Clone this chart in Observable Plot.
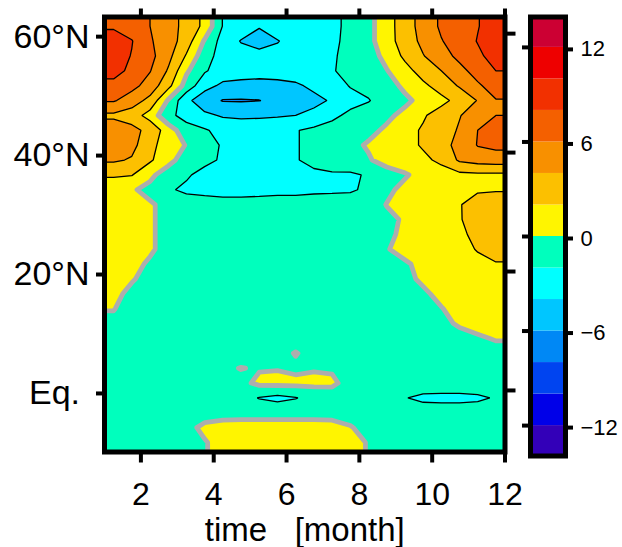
<!DOCTYPE html>
<html>
<head>
<meta charset="utf-8">
<script src="https://cdn.jsdelivr.net/npm/d3@7"></script>
<script src="https://cdn.jsdelivr.net/npm/@observablehq/plot@0.6"></script>
<style>
  html, body { margin: 0; padding: 0; background: #fff; }
  #chart { position: relative; width: 622px; height: 547px; overflow: hidden; }
  #chart svg { position: absolute; left: 0; top: 0; }
</style>
</head>
<body>
<div id="chart"></div>
<script>
// ---- grid coordinates (cell centres) ----
const months = [1.25, 1.75, 2.25, 2.75, 3.25, 3.75, 4.25, 4.75, 5.25, 5.75, 6.25,
                6.75, 7.25, 7.75, 8.25, 8.75, 9.25, 9.75, 10.25, 10.75, 11.25, 11.75];
const lats = [61.25, 58.75, 56.25, 53.75, 51.25, 48.75, 46.25, 43.75, 41.25, 38.75,
              36.25, 33.75, 31.25, 28.75, 26.25, 23.75, 21.25, 18.75, 16.25, 13.75,
              11.25, 8.75, 6.25, 3.75, 1.25, -1.25, -3.75, -6.25, -8.75];

// ---- field values, one row per latitude ----
const rows = [
  [7.8, 7.0, 6.0, 4.8, 3.4, 1.5, -2.1, -3.0, -3.9, -3.0, -2.8, -2.6, -2.4, -1.6, -0.6, 1.2, 3.0, 4.8, 6.3, 7.2, 7.9, 9.0],
  [8.7, 8.1, 6.2, 5.0, 3.0, -0.2, -2.8, -4.1, -4.6, -4.1, -3.2, -2.9, -2.3, -1.6, -0.6, 1.2, 2.9, 4.5, 5.9, 6.9, 8.1, 9.3],
  [9.0, 7.9, 6.6, 4.6, 1.8, -1.2, -2.8, -3.3, -3.5, -3.4, -3.1, -2.9, -2.2, -1.5, -0.9, 0.6, 2.4, 3.9, 5.2, 6.5, 7.6, 8.8],
  [8.6, 7.6, 6.1, 3.8, 0.3, -1.8, -2.9, -3.1, -3.2, -3.1, -3.0, -2.9, -2.1, -1.6, -1.0, -0.1, 1.3, 2.8, 4.0, 5.4, 6.8, 8.0],
  [7.5, 6.6, 5.2, 2.6, -0.8, -3.3, -4.4, -4.6, -4.7, -4.6, -4.3, -3.6, -2.8, -1.9, -1.5, -0.8, 0.4, 1.6, 2.8, 4.2, 5.7, 6.9],
  [6.2, 5.0, 3.4, -0.2, -3.5, -5.2, -6.1, -6.15, -6.05, -5.5, -5.0, -4.5, -3.8, -2.6, -2.1, -1.2, -0.4, 0.6, 1.5, 2.6, 4.1, 5.9],
  [3.6, 3.0, 1.2, -1.5, -2.7, -3.6, -4.2, -4.3, -4.2, -4.1, -4.0, -3.5, -2.4, -1.6, -1.2, -0.4, 0.5, 1.8, 2.8, 3.9, 5.0, 6.0],
  [5.2, 4.6, 3.4, 1.0, -1.2, -1.8, -2.6, -3.0, -3.2, -3.2, -2.1, -1.6, -1.3, -0.9, -0.5, 0.3, 1.4, 2.2, 3.1, 4.2, 6.0, 6.8],
  [5.2, 4.6, 2.6, 1.0, -0.1, -1.2, -2.2, -2.7, -3.0, -2.8, -2.1, -1.6, -1.1, -0.5, 0.2, 0.9, 1.4, 2.2, 3.3, 4.6, 6.1, 6.5],
  [4.3, 3.8, 2.3, 0.6, -0.9, -1.6, -2.2, -2.5, -2.7, -2.5, -2.1, -1.6, -1.2, -0.7, -0.2, 0.8, 1.2, 1.6, 2.4, 4.3, 4.8, 5.0],
  [2.2, 2.1, 0.4, -0.9, -1.8, -2.5, -2.6, -2.7, -2.6, -2.4, -2.3, -2.3, -2.2, -2.3, -1.8, -0.9, -0.2, 0.7, 1.2, 1.5, 1.6, 1.6],
  [1.0, 0.2, -0.5, -1.8, -2.3, -2.4, -2.5, -2.5, -2.4, -2.3, -2.3, -2.2, -2.2, -2.2, -1.7, -0.4, 0.5, 1.1, 1.5, 1.7, 1.8, 1.85],
  [0.9, 0.6, 0.2, -0.5, -1.2, -1.4, -1.5, -1.5, -1.5, -1.5, -1.5, -1.5, -1.4, -1.2, -0.9, 0.05, 0.7, 1.1, 1.5, 1.9, 2.7, 3.0],
  [0.9, 0.6, 0.2, -0.5, -1.0, -1.1, -1.1, -1.1, -1.1, -1.1, -1.1, -1.1, -1.0, -0.9, -0.7, -0.4, 0.2, 0.9, 1.4, 1.9, 2.6, 3.0],
  [0.9, 0.6, 0.2, -0.5, -0.9, -1.0, -1.0, -1.0, -1.0, -1.0, -1.0, -1.0, -0.9, -0.8, -0.6, -0.3, 0.3, 0.9, 1.3, 1.7, 2.4, 2.8],
  [0.9, 0.6, 0.2, -0.5, -0.9, -1.0, -1.0, -1.0, -1.0, -1.0, -1.0, -1.0, -0.9, -0.8, -0.5, -0.1, 0.5, 0.9, 1.2, 1.5, 2.1, 2.6],
  [0.7, 0.4, -0.2, -0.6, -0.9, -1.0, -1.0, -1.0, -1.0, -1.0, -1.0, -1.0, -0.9, -0.8, -0.6, -0.4, -0.2, 0.4, 0.8, 1.2, 1.6, 1.9],
  [0.5, 0.1, -0.4, -0.7, -0.9, -1.0, -1.0, -1.0, -1.0, -1.0, -1.0, -1.0, -0.9, -0.8, -0.7, -0.5, -0.3, 0.2, 0.6, 0.9, 1.2, 1.3],
  [0.3, -0.3, -0.6, -0.8, -0.9, -1.0, -1.0, -1.0, -1.0, -1.0, -1.0, -1.0, -0.9, -0.8, -0.7, -0.6, -0.4, -0.2, 0.3, 0.7, 1.0, 1.1],
  [0.05, -0.5, -0.7, -0.8, -0.9, -1.0, -1.0, -1.0, -1.0, -1.0, -1.0, -1.0, -0.9, -0.8, -0.7, -0.6, -0.5, -0.3, -0.05, 0.4, 0.8, 0.9],
  [-0.3, -0.6, -0.8, -0.9, -0.9, -1.0, -1.0, -1.0, -1.0, -1.0, -1.0, -1.0, -0.9, -0.8, -0.7, -0.6, -0.5, -0.4, -0.3, 0.15, 0.5, 0.6],
  [-0.5, -0.7, -0.8, -0.9, -0.9, -1.0, -1.0, -1.0, -1.0, -1.0, -1.0, -1.0, -0.9, -0.8, -0.7, -0.6, -0.6, -0.5, -0.5, -0.4, -0.2, 0.1],
  [-0.7, -0.8, -0.9, -0.9, -0.9, -0.9, -0.9, -0.8, -0.7, -0.7, 0.1, -0.7, -0.8, -0.9, -0.9, -0.9, -0.9, -0.9, -0.9, -0.8, -0.7, -0.5],
  [-0.8, -0.8, -0.8, -0.8, -0.8, -0.6, -0.3, 0.05, -0.15, -0.1, -0.4, -0.15, -0.2, -0.6, -0.8, -0.8, -0.8, -0.8, -0.8, -0.8, -0.7, -0.6],
  [-0.7, -0.7, -0.7, -0.7, -0.7, -0.7, -0.6, -0.5, 0.4, 0.5, 0.5, 0.45, 0.3, -0.6, -0.7, -0.7, -0.6, -0.6, -0.6, -0.6, -0.6, -0.6],
  [-0.8, -0.8, -0.8, -0.8, -0.8, -0.8, -0.9, -1.2, -2.1, -2.5, -2.1, -1.3, -0.8, -0.8, -0.8, -1.0, -1.9, -2.5, -2.6, -2.6, -2.4, -1.8],
  [-0.8, -0.8, -0.8, -0.8, -0.7, -0.6, -0.6, -0.6, -0.6, -0.6, -0.6, -0.6, -0.6, -0.6, -0.7, -0.8, -0.8, -0.8, -0.8, -0.8, -0.8, -0.8],
  [-0.8, -0.8, -0.8, -0.7, -0.4, 0.3, 0.6, 0.7, 0.7, 0.7, 0.7, 0.7, 0.6, 0.1, -0.5, -0.7, -0.8, -0.8, -0.8, -0.8, -0.8, -0.8],
  [-0.9, -0.9, -0.9, -0.8, -0.6, -0.1, 0.5, 0.8, 0.8, 0.8, 0.8, 0.8, 0.8, 0.5, -0.1, -0.7, -0.8, -0.9, -0.9, -0.9, -0.9, -0.9]
];

// ---- contour levels, colours, ticks ----
const bandLows    = [-14, -12, -10, -8, -6, -4, -2, 0, 2, 4, 6, 8, 10, 12];
const colorBreaks = [-12, -10, -8, -6, -4, -2, 0, 2, 4, 6, 8, 10, 12];
const bandColors  = ["#3300b8", "#0000e8", "#0044f0", "#0088f5", "#00c6ff", "#00ffff", "#00ffbd",
                     "#fff500", "#fcc000", "#f89000", "#f46000", "#f23000", "#ee0000", "#cc0033"];
const lineLevels  = [-12, -10, -8, -6, -4, -2, 2, 4, 6, 8, 10, 12];
const zeroLevel   = [0];
const monthTicks  = [2, 4, 6, 8, 10, 12];
const latTicks    = [0, 20, 40, 60];
const latLabels   = ["Eq.\u00a0", "20°N", "40°N", "60°N"];
const barTicks    = [-12, -6, 0, 6, 12];
const barLabels   = ["\u221212", "\u22126", "0", "6", "12"];
const xLabel      = ["time\u00a0\u00a0\u00a0[month]"];

// ---- grid table for the contour mark: edge samples repeated once outward
// so that the contour polygons reach the frame without corner cuts ----
const padRow = (r) => [r[0], ...r, r[r.length - 1]];
const padded = [padRow(rows[0]), ...rows.map(padRow), padRow(rows[rows.length - 1])];
const dm = months[1] - months[0], dl = lats[0] - lats[1];
const grid = {
  width: months.length + 2, height: lats.length + 2,
  x1: months[0] - 1.5 * dm, x2: months[months.length - 1] + 1.5 * dm,
  y1: lats[0] + 1.5 * dl, y2: lats[lats.length - 1] - 1.5 * dl,
  clip: true
};
const values = padded.flat();

const font = "'Liberation Sans', Arial, Helvetica, sans-serif";
const W = 622, H = 547;
const colorScale = {type: "threshold", domain: colorBreaks, range: bandColors};

const main = Plot.plot({
  width: W, height: H,
  marginLeft: 104, marginRight: 117.5, marginTop: 16.5, marginBottom: 95.5,
  style: {fontFamily: font, background: "transparent", overflow: "visible"},
  x: {domain: [1, 12]},
  y: {domain: [-10.35, 62.8]},
  color: colorScale,
  marks: [
    Plot.contour(values, {...grid, value: Plot.identity, fill: "value", thresholds: bandLows, stroke: "none"}),
    Plot.contour(values, {...grid, value: Plot.identity, fill: "none", stroke: "black", strokeWidth: 1.3, thresholds: lineLevels}),
    Plot.contour(values, {...grid, value: Plot.identity, fill: "none", stroke: "#adadad", strokeWidth: 4.8, strokeLinejoin: "round", thresholds: zeroLevel}),
    Plot.axisX(monthTicks, {anchor: "bottom", tickSize: 11, strokeWidth: 4, tickPadding: 19, fontSize: 32, label: null}),
    Plot.axisX(monthTicks, {anchor: "top", tickSize: 9, strokeWidth: 4, text: null, label: null}),
    Plot.axisY(latTicks, {anchor: "left", tickSize: 8, strokeWidth: 4, tickPadding: 7, fontSize: 34, dy: 3,
      tickFormat: (d) => latLabels[latTicks.indexOf(d)], label: null}),
    Plot.axisY(latTicks, {anchor: "right", tickSize: 10, strokeWidth: 4, text: null, label: null}),
    Plot.frame({stroke: "black", strokeWidth: 5}),
    Plot.text(xLabel, {frameAnchor: "bottom", lineAnchor: "bottom", dy: 88.5, fontSize: 33, fill: "black"})
  ]
});

const bar = Plot.plot({
  width: W, height: H,
  marginLeft: 530, marginRight: 57, marginTop: 16.5, marginBottom: 91.5,
  style: {fontFamily: font, background: "transparent", overflow: "visible"},
  x: {domain: [0, 1], axis: null},
  y: {domain: [-13.93, 13.93], clamp: true},
  color: colorScale,
  marks: [
    Plot.rect(bandLows, {x1: 0, x2: 1, y1: (d) => d, y2: (d) => d + 2, fill: (d) => d}),
    Plot.frame({stroke: "black", strokeWidth: 5}),
    Plot.axisY(barTicks, {anchor: "left", tickSize: 8, strokeWidth: 4, text: null, label: null}),
    Plot.axisY(barTicks, {anchor: "right", tickSize: 7, strokeWidth: 4, tickPadding: 8, fontSize: 22, dy: 2,
      tickFormat: (d) => barLabels[barTicks.indexOf(d)], label: null})
  ]
});

const chart = document.getElementById("chart");
chart.appendChild(main);
chart.appendChild(bar);
</script>
</body>
</html>
